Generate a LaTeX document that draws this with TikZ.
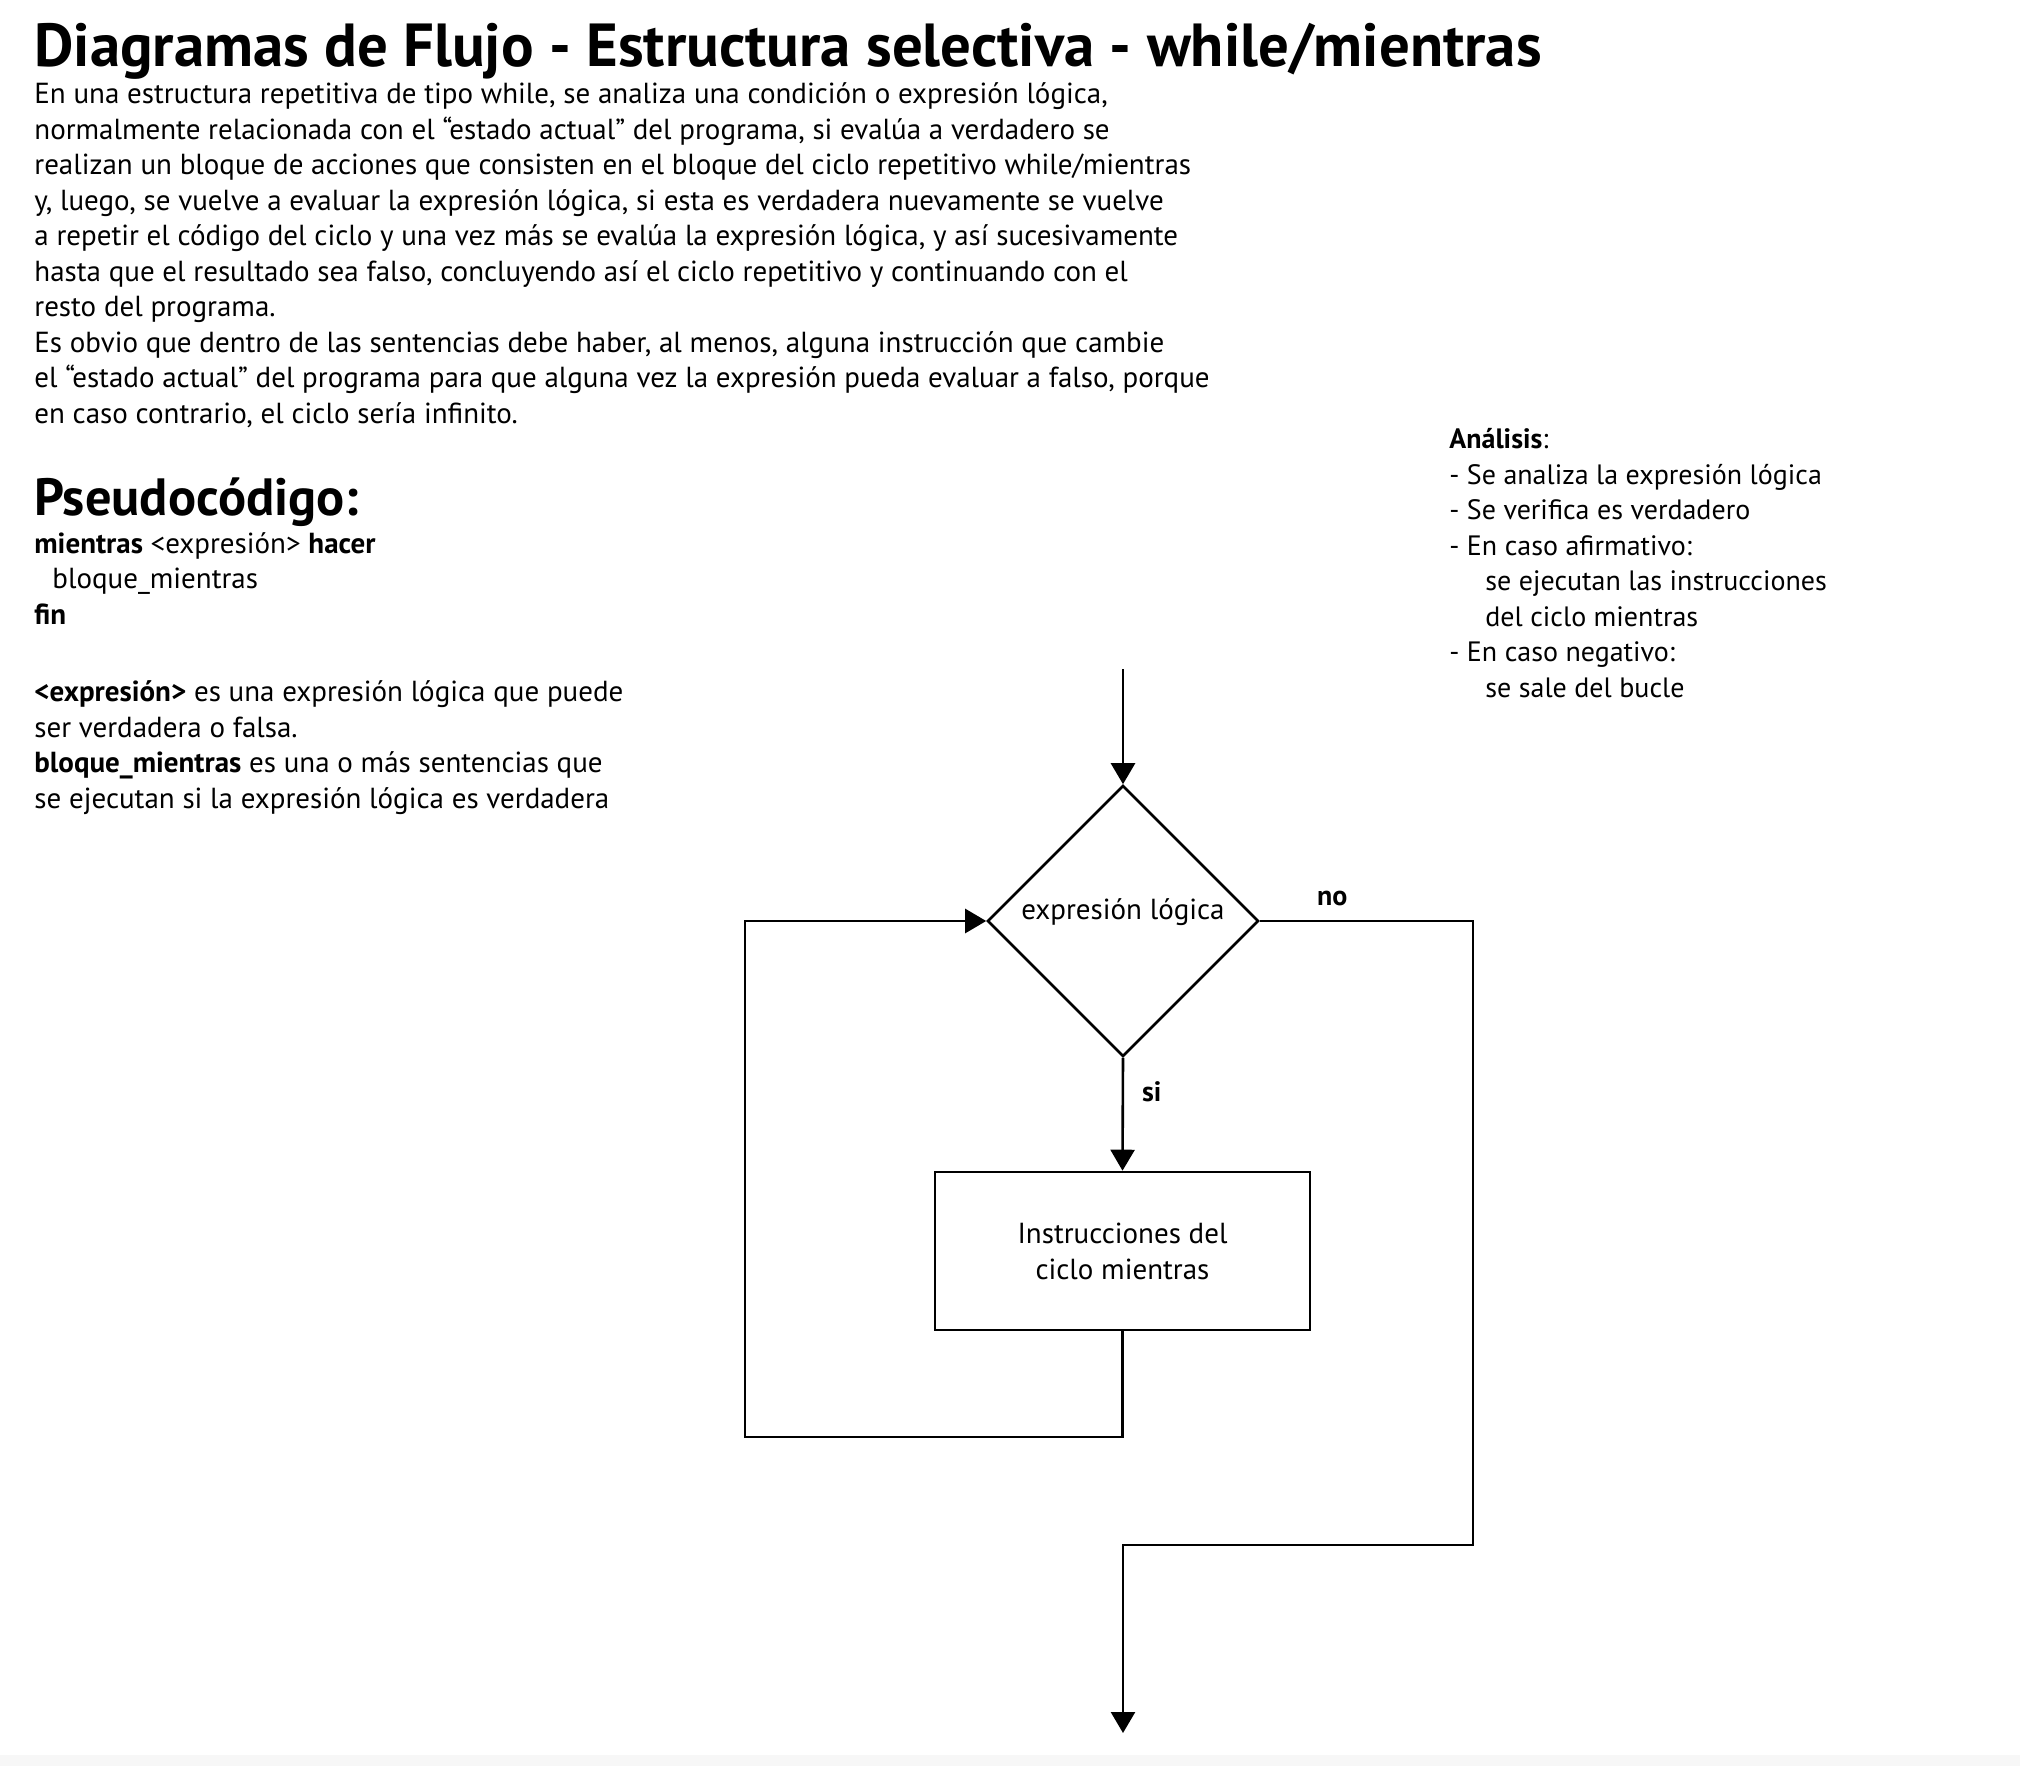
\documentclass[tikz,border=0pt]{standalone}
\usepackage{fontspec}
\setmainfont{PT Sans}
\usetikzlibrary{arrows.meta}
\usetikzlibrary{shapes.geometric}
\usetikzlibrary{positioning}

\begin{document}
\begin{tikzpicture}[x=0.5pt, y=-0.5pt,
		>={Triangle[length=10.5pt, width=12pt]},
		flow/.style={draw=black, line width=1.3pt, ->},
		bodytext/.style={anchor=base west, inner sep=0pt, align=left, font=\fontsize{#1}{17.75}\selectfont},
		bodytext/.default=14.5,
		heading/.style={anchor=base west, inner sep=0pt, font=\fontsize{#1}{#1}\selectfont\bfseries},
		tag/.style={inner sep=0pt, font=\fontsize{14}{16}\selectfont\bfseries}]
	\useasboundingbox (0,0) rectangle (2020,1766);
	\fill[black!3] (0,1755) rectangle (2020,1766);

	\node[heading=30.4] (titulo) at (34,67) {Diagramas de Flujo - Estructura selectiva - while/mientras};
	\node[bodytext] (intro) at (34,423) {En una estructura repetitiva de tipo while, se analiza una condición o expresión lógica,\\
		normalmente relacionada con el “estado actual” del programa, si evalúa a verdadero se\\
		realizan un bloque de acciones que consisten en el bloque del ciclo repetitivo while/mientras\\
		y, luego, se vuelve a evaluar la expresión lógica, si esta es verdadera nuevamente se vuelve\\
		a repetir el código del ciclo y una vez más se evalúa la expresión lógica, y así sucesivamente\\
		hasta que el resultado sea falso, concluyendo así el ciclo repetitivo y continuando con el\\
		resto del programa.\\
		Es obvio que dentro de las sentencias debe haber, al menos, alguna instrucción que cambie\\
		el “estado actual” del programa para que alguna vez la expresión pueda evaluar a falso, porque\\
		en caso contrario, el ciclo sería infinito.};

	\node[heading=26.2] (pseudo) at (34,515) {Pseudocódigo:};
	\node[bodytext] (codigo) at (34,624) {\textbf{mientras} <expresión> \textbf{hacer}\\
		\hspace*{9pt}bloque\_mientras\\
		\textbf{fin}};
	\node[bodytext] (notas) at (34,808) {\textbf{<expresión>} es una expresión lógica que puede\\
		ser verdadera o falsa.\\
		\textbf{bloque\_mientras} es una o más sentencias que\\
		se ejecutan si la expresión lógica es verdadera};

	\node[bodytext=14] (analisis) at (1449,697) {\textbf{Análisis}:\\
		- Se analiza la expresión lógica\\
		- Se verifica es verdadero\\
		- En caso afirmativo:\\
		\hspace*{18pt}se ejecutan las instrucciones\\
		\hspace*{18pt}del ciclo mientras\\
		- En caso negativo:\\
		\hspace*{18pt}se sale del bucle};

	\begin{scope}[every node/.style={draw=black, line width=1.3pt, inner sep=0pt, align=center, font=\fontsize{14.5}{18}\selectfont}]
		\node[diamond, aspect=1, minimum width=135.5pt, minimum height=135.5pt, text height=10pt, text depth=12pt] (cond) at (1123,921) {expresión lógica};
		\node[rectangle, minimum width=187.5pt, minimum height=79pt] (ciclo) at (1122.5,1251) {Instrucciones del\\ciclo mientras};
	\end{scope}

	\coordinate (inicio) at (1123,669);
	\coordinate (vuelta) at (745,1437);
	\coordinate (salida) at (1473,1545);
	\coordinate (fin) at (1123,1733);

	\draw[flow] (inicio) -- (cond.north);
	\draw[flow] (cond.south) -- node[tag, pos=0.3, anchor=west, xshift=9pt] (si) {si} (ciclo.north);
	\draw[flow] (ciclo.south) |- (vuelta) |- (cond.west);
	\draw[flow] (cond.east) -| node[tag, pos=0.17, anchor=base, yshift=8pt] (no) {no} (salida) -| (fin);
\end{tikzpicture}
\end{document}
